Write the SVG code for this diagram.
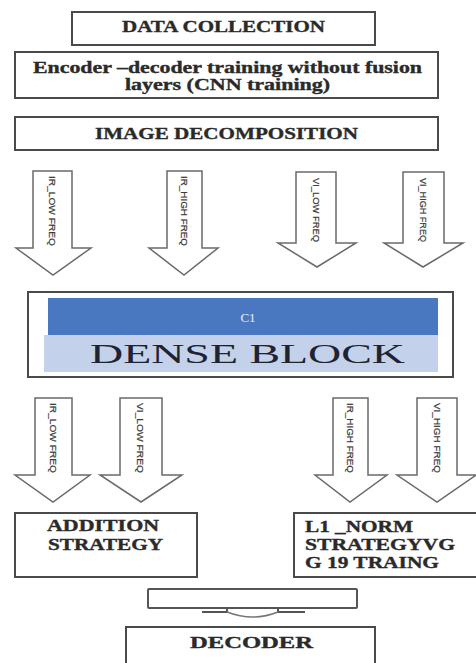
<svg xmlns="http://www.w3.org/2000/svg" width="476" height="663" viewBox="0 0 476 663">
<style>
.box{fill:#ffffff;stroke:#4a4a4a;stroke-width:2}
.t{font-family:"Liberation Serif",serif;font-weight:bold;font-size:16px;fill:#2a2a2a;stroke:#2a2a2a;stroke-width:0.35}
.arr{fill:#ffffff;stroke:#6a6a6a;stroke-width:1.5;stroke-linejoin:miter}
.lbl{font-family:"Liberation Sans",sans-serif;font-size:9.5px;fill:#3a3a3a;stroke:#3a3a3a;stroke-width:0.2}
</style>
<rect width="476" height="663" fill="#ffffff"/>
<g id="data-collection">
<rect class="box" x="72" y="12" width="303" height="33"/>
<text class="t" x="122" y="32" textLength="203" lengthAdjust="spacingAndGlyphs">DATA COLLECTION</text>
</g>
<g id="encoder-training">
<rect class="box" x="15" y="52" width="423" height="46"/>
<text class="t" x="33" y="73" textLength="389" lengthAdjust="spacingAndGlyphs">Encoder –decoder training without fusion</text>
<text class="t" x="125" y="90" textLength="205" lengthAdjust="spacingAndGlyphs">layers (CNN training)</text>
</g>
<g id="image-decomposition">
<rect class="box" x="15" y="117" width="423" height="33"/>
<text class="t" x="95" y="139" textLength="263" lengthAdjust="spacingAndGlyphs">IMAGE DECOMPOSITION</text>
</g>
<g id="connectors">
<g id="arrow-ir-low-top">
<polygon class="arr" points="33,171 72,171 72,248 91,248 53,275 16,248 33,248"/>
<text class="lbl" transform="translate(49,176) rotate(90)" textLength="70" lengthAdjust="spacingAndGlyphs">IR_LOW FREQ</text>
</g>
<g id="arrow-ir-high-top">
<polygon class="arr" points="167,171 202,171 202,248 218,248 184,275 149,248 167,248"/>
<text class="lbl" transform="translate(181,176) rotate(90)" textLength="70" lengthAdjust="spacingAndGlyphs">IR_HIGH FREQ</text>
</g>
<g id="arrow-vi-low-top">
<polygon class="arr" points="296,172 336,172 336,243 356,243 317,267 278,243 296,243"/>
<text class="lbl" transform="translate(313,178) rotate(90)" textLength="64" lengthAdjust="spacingAndGlyphs">VI_LOW FREQ</text>
</g>
<g id="arrow-vi-high-top">
<polygon class="arr" points="403,172 444,172 444,243 463,243 423,267 384,243 403,243"/>
<text class="lbl" transform="translate(420,178) rotate(90)" textLength="64" lengthAdjust="spacingAndGlyphs">VI_HIGH FREQ</text>
</g>
<g id="arrow-ir-low-bottom">
<polygon class="arr" points="35,398 72,398 72,475 90,475 53,502 15,475 35,475"/>
<text class="lbl" transform="translate(50,403) rotate(90)" textLength="70" lengthAdjust="spacingAndGlyphs">IR_LOW FREQ</text>
</g>
<g id="arrow-vi-low-bottom">
<polygon class="arr" points="120,398 162,398 162,475 182,475 141,502 100,475 120,475"/>
<text class="lbl" transform="translate(137,403) rotate(90)" textLength="70" lengthAdjust="spacingAndGlyphs">VI_LOW FREQ</text>
</g>
<g id="arrow-ir-high-bottom">
<polygon class="arr" points="333,398 368,398 368,475 387,475 350,502 315,475 333,475"/>
<text class="lbl" transform="translate(347,403) rotate(90)" textLength="70" lengthAdjust="spacingAndGlyphs">IR_HIGH FREQ</text>
</g>
<g id="arrow-vi-high-bottom">
<polygon class="arr" points="417,398 457,398 457,475 476,475 437,502 397,475 417,475"/>
<text class="lbl" transform="translate(434,403) rotate(90)" textLength="70" lengthAdjust="spacingAndGlyphs">VI_HIGH FREQ</text>
</g>
<g id="merge-arrow">
<rect x="148" y="589" width="209" height="19" fill="#ffffff" stroke="#555555" stroke-width="2" rx="1"/>
<path d="M202,612 L227,612 L227,607 M278,607 L278,612 L305,612" fill="none" stroke="#555555" stroke-width="2"/>
<path d="M227,612 Q253,622 278,612" fill="none" stroke="#777777" stroke-width="1.5"/>
</g>
</g>
<g id="dense-block">
<rect x="28" y="292" width="425" height="85" fill="#ffffff" stroke="#4a4a4a" stroke-width="2"/>
<rect x="48" y="298" width="390" height="37" fill="#4a78c0"/>
<rect x="44" y="335" width="394" height="37" fill="#c3d1ea"/>
<text x="248" y="322" text-anchor="middle" font-family="Liberation Serif,serif" font-size="13" fill="#e4ecf7">C1</text>
<text x="90" y="363" font-family="Liberation Serif,serif" font-size="28" fill="#1f2230" textLength="315" lengthAdjust="spacingAndGlyphs">DENSE BLOCK</text>
</g>
<g id="addition-strategy">
<rect class="box" x="15" y="513" width="182" height="64"/>
<text class="t" x="47" y="531" textLength="112" lengthAdjust="spacingAndGlyphs">ADDITION</text>
<text class="t" x="48" y="550" textLength="115" lengthAdjust="spacingAndGlyphs">STRATEGY</text>
</g>
<g id="l1-norm-strategy">
<rect class="box" x="294" y="513" width="190" height="64"/>
<text class="t" x="305" y="532" textLength="108" lengthAdjust="spacingAndGlyphs">L1 _NORM</text>
<text class="t" x="305" y="550" textLength="150" lengthAdjust="spacingAndGlyphs">STRATEGYVG</text>
<text class="t" x="305" y="568" textLength="134" lengthAdjust="spacingAndGlyphs">G 19 TRAING</text>
</g>
<g id="decoder">
<rect class="box" x="126" y="627" width="249" height="45"/>
<text class="t" x="190" y="648" textLength="123" lengthAdjust="spacingAndGlyphs">DECODER</text>
</g>
</svg>
